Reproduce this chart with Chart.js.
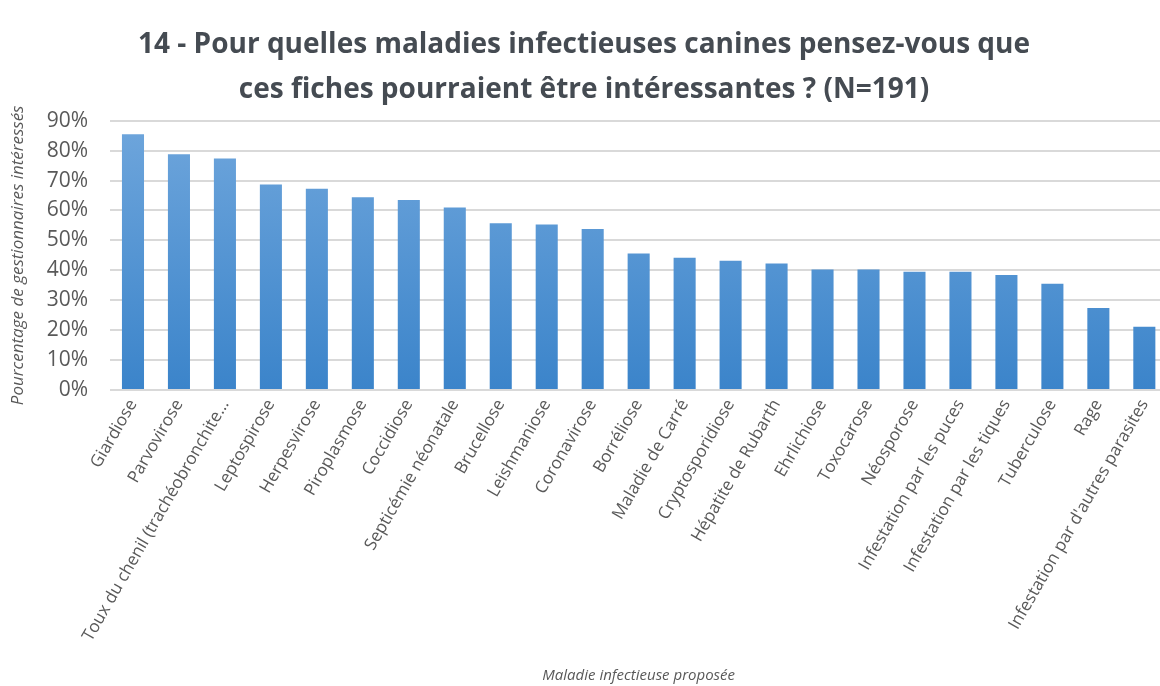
<!DOCTYPE html>
<html>
<head>
<meta charset="utf-8">
<script src="https://cdn.jsdelivr.net/npm/chart.js@4/dist/chart.umd.min.js"></script>
<style>
html,body{margin:0;padding:0;background:#fff;overflow:hidden;}
#wrap{width:1168px;height:686px;}
</style>
</head>
<body>
<div id="wrap"><canvas id="c" width="1168" height="686"></canvas></div>
<script>
const titleLines = [
  "14 - Pour quelles maladies infectieuses canines pensez-vous que",
  "ces fiches pourraient être intéressantes ? (N=191)"
];
const categories = [
  "Giardiose", "Parvovirose", "Toux du chenil (trachéobronchite...", "Leptospirose",
  "Herpesvirose", "Piroplasmose", "Coccidiose", "Septicémie néonatale", "Brucellose",
  "Leishmaniose", "Coronavirose", "Borréliose", "Maladie de Carré", "Cryptosporidiose",
  "Hépatite de Rubarth", "Ehrlichiose", "Toxocarose", "Néosporose",
  "Infestation par les puces", "Infestation par les tiques", "Tuberculose", "Rage",
  "Infestation par d'autres parasites"
];
const percentValues = [
  85.5, 78.8, 77.4, 68.7, 67.3, 64.4, 63.5, 61.0, 55.7, 55.3, 53.8,
  45.6, 44.2, 43.2, 42.3, 40.3, 40.3, 39.5, 39.5, 38.4, 35.5, 27.4, 21.1
];
const yTickValues = [0, 10, 20, 30, 40, 50, 60, 70, 80, 90];
const yAxisTitle = "Pourcentage de gestionnaires intéressés";
const xAxisTitle = "Maladie infectieuse proposée";

const textColor = "#595959";

function barGradient(ctx) {
  const chart = ctx.chart;
  const area = chart.chartArea;
  if (!area) return "#5b9bd5";
  const g = chart.ctx.createLinearGradient(0, area.top, 0, area.bottom);
  g.addColorStop(0, "#6fa6dc");
  g.addColorStop(1, "#3b84ca");
  return g;
}

new Chart(document.getElementById("c"), {
  type: "bar",
  data: {
    labels: categories,
    datasets: [{
      data: percentValues,
      backgroundColor: barGradient,
      borderWidth: 0,
      categoryPercentage: 1,
      barPercentage: 0.48
    }]
  },
  options: {
    responsive: false,
    devicePixelRatio: 1,
    animation: false,
    layout: { padding: { left: 0, right: 0, top: 0, bottom: 0 } },
    plugins: {
      legend: { display: false },
      tooltip: { enabled: false },
      title: {
        display: true,
        text: titleLines,
        color: "#454b52",
        font: { family: "'Open Sans'", size: 28, weight: "bold", lineHeight: 1.62 },
        padding: { top: 22, bottom: 8 }
      }
    },
    scales: {
      x: {
        grid: { display: false, drawTicks: false },
        border: { display: false },
        ticks: {
          color: textColor,
          font: { family: "'Open Sans'", size: 17 },
          minRotation: 60,
          maxRotation: 60,
          autoSkip: false,
          padding: 6
        },
        title: {
          display: true,
          text: xAxisTitle,
          color: textColor,
          font: { family: "'Open Sans'", size: 15, style: "italic" },
          padding: { top: 0, bottom: 1 }
        },
        afterFit: function (scale) { scale.height = 296; }
      },
      y: {
        min: 0,
        max: 90,
        afterBuildTicks: function (scale) {
          scale.ticks = yTickValues.map(v => ({ value: v }));
        },
        grid: { color: "#d9d9d9", lineWidth: 2, drawTicks: false },
        border: { display: false },
        ticks: {
          color: textColor,
          font: { family: "'Open Sans'", size: 21 },
          padding: 22,
          callback: v => v + "%"
        },
        title: {
          display: true,
          text: yAxisTitle,
          color: textColor,
          font: { family: "'Open Sans'", size: 17, style: "italic" },
          padding: { top: 8, bottom: 0 }
        },
        afterFit: function (scale) { scale.width = 110; }
      }
    }
  }
});
</script>
</body>
</html>
